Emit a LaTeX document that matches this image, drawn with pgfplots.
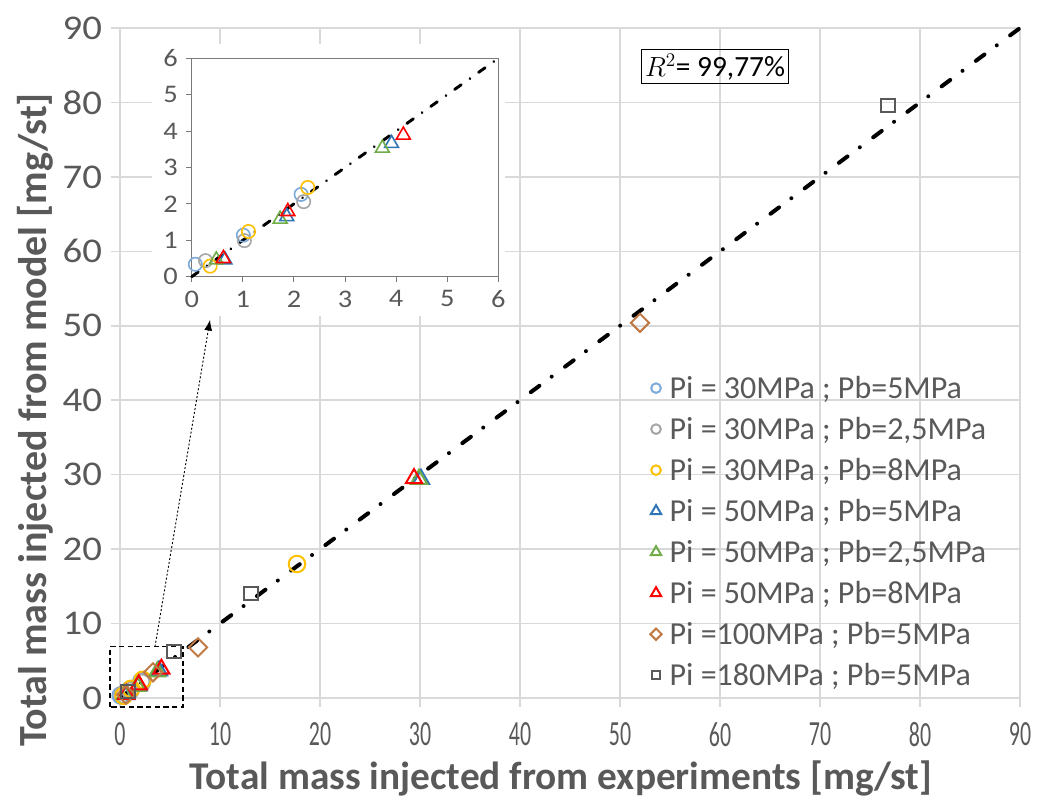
\documentclass[border=0pt]{standalone}
\usepackage{pgfplots}
\pgfplotsset{compat=1.18}
\usepackage{fontspec}
\setmainfont{Carlito}
\newfontfamily\narrowfont[FakeStretch=0.62]{Carlito}
\newfontfamily\widefont[FakeStretch=1.12]{Carlito}
\usetikzlibrary{arrows.meta}
\definecolor{gridc}{HTML}{D9D9D9}
\definecolor{txtc}{HTML}{595959}
\definecolor{cA}{HTML}{7BAADB}
\definecolor{cB}{HTML}{A6A6A6}
\definecolor{cC}{HTML}{FFC000}
\definecolor{cD}{HTML}{2E75B6}
\definecolor{cE}{HTML}{70AD47}
\definecolor{cF}{HTML}{FF0000}
\definecolor{cG}{HTML}{C07A45}
\definecolor{cH}{HTML}{595959}
\begin{document}
\begin{tikzpicture}
\path[use as bounding box] (-90pt,-76.5pt) rectangle (691.5pt,523.5pt);
\begin{axis}[
  at={(0,0)}, anchor=south west,
  scale only axis, width=675pt, height=502.5pt,
  xmin=0, xmax=90, ymin=0, ymax=90,
  xtick={0,10,...,90}, ytick={0,10,...,90},
  grid=major, grid style={draw=gridc, line width=1.1pt},
  axis line style={draw=gridc, line width=1.1pt},
  tick style={draw=gridc, line width=1.1pt},
  tick align=outside, major tick length=7pt, tick pos=left,
  /pgf/number format/assume math mode=true,
  yticklabel style={font=\widefont\fontsize{26}{30}\selectfont, text=txtc, xshift=-3pt},
  xticklabel style={font=\narrowfont\fontsize{26.5}{30}\selectfont, text=txtc, yshift=-10pt, inner sep=1pt},
  xlabel={\textbf{Total mass injected from experiments [mg/st]}},
  ylabel={\textbf{Total mass injected from model [mg/st]}},
  xlabel style={font=\fontsize{29.5}{33}\selectfont, text=txtc, at={(axis description cs:0.49,-0.12)}, anchor=center, inner sep=1pt},
  ylabel style={font=\fontsize{30}{34}\selectfont, text=txtc, at={(axis description cs:-0.094,0.415)}, anchor=center},
  clip=false,
  legend style={at={(0.589,0.485)}, anchor=north west, draw=none, fill=none,
    font=\fontsize{24}{28}\selectfont, text=txtc, row sep=8.6pt, inner sep=0pt,
    /tikz/every odd column/.append style={column sep=4pt}},
  legend cell align=left,
  every axis plot/.append style={line width=1.5pt},
]
\fill[white] (axis cs:3.2,51.3) rectangle (axis cs:38.5,87.8);
\addplot[only marks, mark=o, mark size=6.2pt, cA, legend image post style={mark size=3.6pt}] coordinates {(0.07,0.34)(1.01,1.14)(2.14,2.26)};
\addlegendentry{Pi = 30MPa ; Pb=5MPa}
\addplot[only marks, mark=o, mark size=6.2pt, cB, legend image post style={mark size=3.6pt}] coordinates {(0.27,0.44)(1.03,0.99)(2.19,2.06)};
\addlegendentry{Pi = 30MPa ; Pb=2,5MPa}
\addplot[only marks, mark=o, mark size=6.2pt, cC, legend image post style={mark size=3.6pt}] coordinates {(0.36,0.29)(1.11,1.24)(2.27,2.45)(17.7,18.0)};
\addlegendentry{Pi = 30MPa ; Pb=8MPa}
\addplot[only marks, mark=triangle, mark size=7pt, cD, legend image post style={mark size=4.5pt}] coordinates {(0.65,0.46)(1.86,1.65)(3.91,3.66)(30.1,29.4)};
\addlegendentry{Pi = 50MPa ; Pb=5MPa}
\addplot[only marks, mark=triangle, mark size=7pt, cE, legend image post style={mark size=4.5pt}] coordinates {(0.48,0.46)(1.73,1.58)(3.73,3.53)(29.9,29.4)};
\addlegendentry{Pi = 50MPa ; Pb=2,5MPa}
\addplot[only marks, mark=triangle, mark size=7pt, cF, legend image post style={mark size=4.5pt}] coordinates {(0.62,0.50)(1.88,1.79)(4.14,3.89)(29.4,29.5)};
\addlegendentry{Pi = 50MPa ; Pb=8MPa}
\addplot[only marks, mark=square, mark size=4.8pt, mark options={rotate=45}, cG, legend image post style={mark size=3pt}] coordinates {(0.6,0.45)(3.3,3.45)(7.8,6.8)(52.0,50.4)};
\addlegendentry{Pi =100MPa ; Pb=5MPa}
\addplot[only marks, mark=square, mark size=4.9pt, cH, legend image post style={mark size=3pt}] coordinates {(0.8,0.85)(5.4,6.2)(13.1,14.1)(76.8,79.6)};
\addlegendentry{Pi =180MPa ; Pb=5MPa}
\addplot[forget plot, black, line width=3pt, line cap=round, dash pattern=on 8pt off 11.5pt on 0.01pt off 12.5pt] coordinates {(0,0)(90,90)};
\draw[black, line width=1pt, dash pattern=on 4pt off 2.5pt] (axis cs:-1.0,-1.2) rectangle (axis cs:6.3,6.9);
\draw[black, line width=0.7pt, dash pattern=on 1.5pt off 1.5pt, -{Latex[length=8pt,width=6pt]}] (axis cs:3.5,6.9) -- (axis cs:9.0,50.8);
\node[draw=black, line width=0.8pt, inner sep=3pt, text=black, font=\fontsize{22}{26}\selectfont] at (axis cs:59.5,84.8) {$R^{2}$= 99,77\%};
\end{axis}
\begin{axis}[
  at={(53.8pt,316pt)}, anchor=south west,
  scale only axis, width=230pt, height=163.8pt,
  xmin=0, xmax=6, ymin=0, ymax=6,
  xtick={0,...,6}, ytick={0,...,6},
  axis line style={draw=cH!80, line width=0.8pt},
  tick style={draw=cH!80, line width=0.8pt},
  tick align=outside, major tick length=4pt, tick pos=left,
  /pgf/number format/assume math mode=true,
  ticklabel style={font=\widefont\fontsize{19}{22}\selectfont, text=txtc},
  xticklabel style={yshift=-3pt},
  yticklabel style={xshift=-3pt},
  clip=false,
  every axis plot/.append style={line width=1.2pt},
]
\addplot[only marks, mark=o, mark size=5pt, cA] coordinates {(0.07,0.34)(1.01,1.14)(2.14,2.26)};
\addplot[only marks, mark=o, mark size=5pt, cB] coordinates {(0.27,0.44)(1.03,0.99)(2.19,2.06)};
\addplot[only marks, mark=o, mark size=5pt, cC] coordinates {(0.36,0.29)(1.11,1.24)(2.27,2.45)};
\addplot[only marks, mark=triangle, mark size=6pt, cD] coordinates {(0.65,0.46)(1.86,1.65)(3.91,3.66)};
\addplot[only marks, mark=triangle, mark size=6pt, cE] coordinates {(0.48,0.46)(1.73,1.58)(3.73,3.53)};
\addplot[only marks, mark=triangle, mark size=6pt, cF] coordinates {(0.62,0.50)(1.88,1.79)(4.14,3.89)};
\addplot[black, line width=2.2pt, line cap=round, dash pattern=on 6pt off 8pt on 0.01pt off 8pt] coordinates {(0,0)(6,6)};
\end{axis}
\end{tikzpicture}
\end{document}
